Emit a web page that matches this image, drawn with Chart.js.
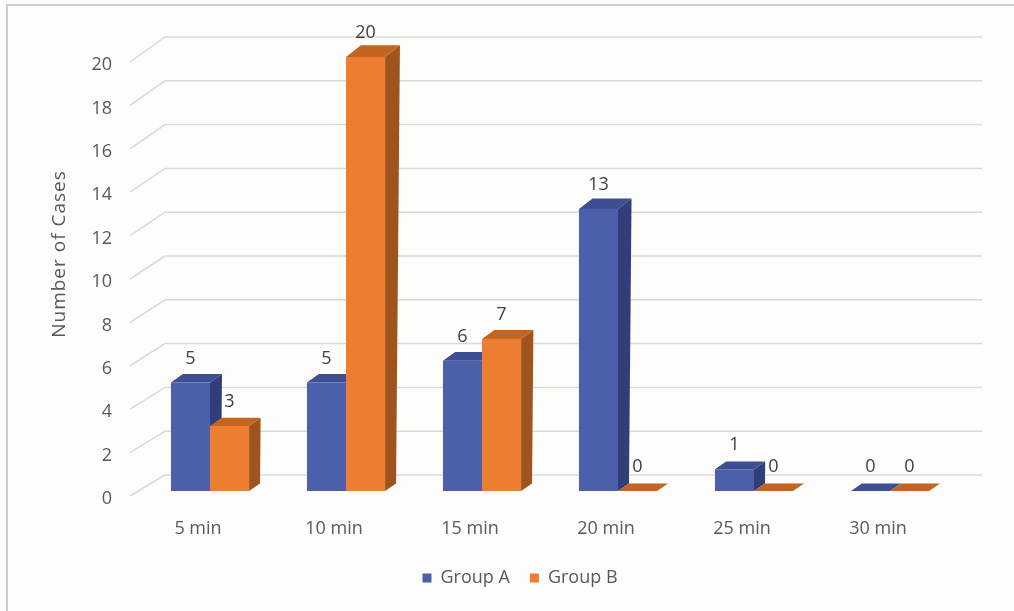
<!DOCTYPE html>
<html>
<head>
<meta charset="utf-8">
<script src="https://cdn.jsdelivr.net/npm/chart.js@4.4.0/dist/chart.umd.min.js"></script>
<style>
  html, body { margin: 0; padding: 0; background: #fdfdfb; }
  #wrap { position: relative; width: 1014px; height: 611px; }
</style>
</head>
<body>
<div id="wrap"><canvas id="c" width="1014" height="611"></canvas></div>
<script>
// Time to outcome, number of cases per group
const categories = ['5 min', '10 min', '15 min', '20 min', '25 min', '30 min'];
const groupA = [5, 5, 6, 13, 1, 0];
const groupB = [3, 20, 7, 0, 0, 0];
const yMin = 0;
const yMax = 20;
const yStep = 2;
const yTitle = 'Number of Cases';

const FONT = '"Open Sans", "DejaVu Sans", sans-serif';
const faces = {
  A: { front: '#4b5fab', side: '#313e7a', top: '#3e4e93' },
  B: { front: '#ed7d31', side: '#9f541d', top: '#c4641f' }
};

// perspective offset of the receding faces, growing a little with height
function recede(y, base) {
  const h = base - y;
  return { dx: 11 + h * 0.009, dy: -(7.5 + h * 0.01) };
}

const frame = {
  id: 'frame',
  beforeDraw(chart) {
    const ctx = chart.ctx;
    ctx.save();
    ctx.fillStyle = '#fdfdfb';
    ctx.fillRect(0, 0, chart.width, chart.height);
    ctx.strokeStyle = '#cdcdcd';
    ctx.lineWidth = 2;
    ctx.beginPath();
    ctx.moveTo(7, chart.height);
    ctx.lineTo(7, 5);
    ctx.lineTo(chart.width, 5);
    ctx.stroke();
    ctx.restore();
  },
  afterDraw(chart) {
    // vertical axis title, centred on the back wall
    const ctx = chart.ctx;
    const y = chart.scales.y;
    const mid = (y.getPixelForValue(yMin) + y.getPixelForValue(yMax)) / 2 - 20;
    ctx.save();
    ctx.translate(60, mid);
    ctx.rotate(-Math.PI / 2);
    ctx.fillStyle = '#595959';
    ctx.font = '19px ' + FONT;
    if ('letterSpacing' in ctx) ctx.letterSpacing = '1px';
    ctx.textAlign = 'center';
    ctx.textBaseline = 'middle';
    ctx.fillText(yTitle, 0, 0);
    ctx.restore();
  }
};

const wall = {
  id: 'wall',
  beforeDatasetsDraw(chart) {
    const ctx = chart.ctx;
    const y = chart.scales.y;
    const area = chart.chartArea;
    const base = y.getPixelForValue(0);
    ctx.save();
    // back wall gridlines with their diagonal run to the front edge
    ctx.strokeStyle = '#d9d9d9';
    ctx.lineWidth = 1.5;
    for (let v = yMin; v <= yMax; v += yStep) {
      const yf = y.getPixelForValue(v);
      const yb = yf - 16 - (base - yf) * 0.0092;
      ctx.beginPath();
      ctx.moveTo(area.left - 12, yf + 5);
      ctx.lineTo(area.left + 23, yb);
      ctx.lineTo(area.right + 24, yb);
      ctx.stroke();
    }
    // side and top faces of every column (fronts come from the bar elements)
    chart.data.datasets.forEach((ds, di) => {
      const col = faces[ds.key];
      chart.getDatasetMeta(di).data.forEach(bar => {
        const half = bar.width / 2;
        const xl = bar.x - half, xr = bar.x + half;
        const yt = bar.y, yb0 = bar.base;
        const dt = recede(yt, yb0), db = recede(yb0, yb0);
        ctx.fillStyle = col.side;
        ctx.beginPath();
        ctx.moveTo(xr, yt);
        ctx.lineTo(xr + dt.dx, yt + dt.dy);
        ctx.lineTo(xr + db.dx, yb0 + db.dy);
        ctx.lineTo(xr, yb0);
        ctx.closePath();
        ctx.fill();
        ctx.fillStyle = col.top;
        ctx.beginPath();
        ctx.moveTo(xl, yt);
        ctx.lineTo(xr, yt);
        ctx.lineTo(xr + dt.dx, yt + dt.dy);
        ctx.lineTo(xl + dt.dx, yt + dt.dy);
        ctx.closePath();
        ctx.fill();
      });
    });
    ctx.restore();
  },
  afterDatasetsDraw(chart) {
    const ctx = chart.ctx;
    ctx.save();
    ctx.fillStyle = '#404040';
    ctx.font = '18px ' + FONT;
    ctx.textAlign = 'center';
    ctx.textBaseline = 'middle';
    chart.data.datasets.forEach((ds, di) => {
      chart.getDatasetMeta(di).data.forEach((bar, i) => {
        ctx.fillText(String(ds.data[i]), bar.x, bar.y - 24);
      });
    });
    ctx.restore();
  }
};

new Chart(document.getElementById('c'), {
  type: 'bar',
  data: {
    labels: categories,
    datasets: [
      { key: 'A', label: 'Group A', data: groupA, backgroundColor: faces.A.front, borderWidth: 0 },
      { key: 'B', label: 'Group B', data: groupB, backgroundColor: faces.B.front, borderWidth: 0 }
    ]
  },
  options: {
    responsive: false,
    devicePixelRatio: 1,
    animation: false,
    layout: { padding: { left: 50, top: 57, right: 24, bottom: 14 } },
    datasets: { bar: { barPercentage: 1, categoryPercentage: 0.574 } },
    scales: {
      x: {
        grid: { display: false, drawTicks: false },
        border: { display: false },
        ticks: { color: '#595959', font: { size: 18, family: FONT }, padding: 27, labelOffset: -12 },
        afterFit(s) { s.height = 58; }
      },
      y: {
        min: yMin, max: yMax,
        grid: { display: false, drawTicks: false },
        border: { display: false },
        ticks: { stepSize: yStep, color: '#595959', font: { size: 18, family: FONT }, padding: 30, labelOffset: 8 },
        afterFit(s) { s.width = 92; }
      },
      yRight: {
        position: 'right', min: yMin, max: yMax,
        grid: { display: false, drawTicks: false },
        border: { display: false },
        ticks: { display: false },
        afterFit(s) { s.width = 32; }
      }
    },
    plugins: {
      legend: {
        position: 'bottom',
        labels: { boxWidth: 9, boxHeight: 9, padding: 20, color: '#595959', font: { size: 18, family: FONT } }
      },
      tooltip: { enabled: false }
    }
  },
  plugins: [frame, wall]
});
</script>
</body>
</html>
